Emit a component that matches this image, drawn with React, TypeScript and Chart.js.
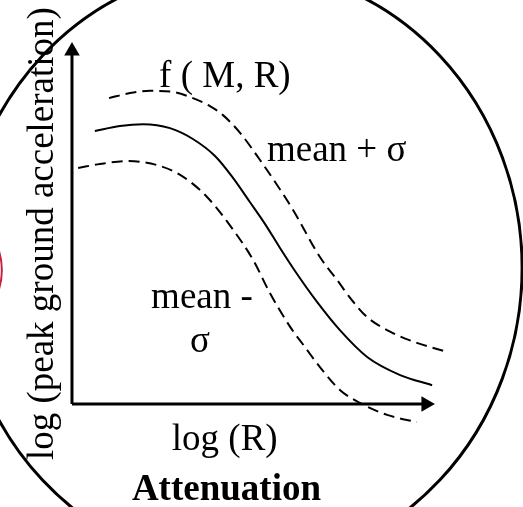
import React, { useEffect, useRef } from "react";
import { Chart, registerables } from "chart.js";
Chart.register(...registerables);

// Diagram units: origin of the axes = (0,0), arrow tips = 10
const X_MIN = -1.983;
const X_MAX = 12.424;
const Y_MIN = -2.845;
const Y_MAX = 11.16;

// mean curve f(M,R)
const meanX = [0.63, 1.32, 1.96, 2.7, 3.33, 3.94, 4.44, 4.9, 5.32, 5.73, 6.2, 6.75, 7.38, 8.13, 9.04, 9.92];
const meanY = [7.54, 7.68, 7.73, 7.62, 7.32, 6.85, 6.24, 5.58, 4.97, 4.31, 3.59, 2.82, 2.04, 1.3, 0.8, 0.52];

// mean + sigma
const upperX = [1.02, 1.6, 2.15, 2.78, 3.25, 3.8, 4.16, 4.63, 5.18, 5.65, 6.09, 6.83, 7.3, 7.71, 8.13, 8.84, 9.5, 10.33];
const upperY = [8.45, 8.59, 8.65, 8.62, 8.48, 8.23, 7.98, 7.49, 6.74, 6.05, 5.36, 4.06, 3.43, 2.87, 2.4, 1.96, 1.69, 1.44];

// mean - sigma
const lowerX = [0.17, 0.77, 1.52, 2.34, 2.98, 3.72, 4.44, 4.99, 5.45, 6.01, 6.42, 6.83, 7.38, 7.93, 8.68, 9.5];
const lowerY = [6.52, 6.63, 6.71, 6.6, 6.33, 5.72, 4.81, 3.98, 3.07, 2.13, 1.57, 1.02, 0.39, 0.03, -0.3, -0.5];

// axes (ends carry the arrow heads)
const xAxisX = [0, 9.75];
const xAxisY = [0, 0];
const yAxisX = [0, 0];
const yAxisY = [0, 9.75];

// text labels
const labelTexts = ["f ( M, R)", "mean + σ", "mean -", "σ", "log (R)"];
const labelX = [2.4, 5.37, 2.18, 3.25, 2.75];
const labelY = [8.76, 6.71, 2.65, 1.44, -1.27];
const titleText = "Attenuation";
const titleX = 1.65;
const titleY = -2.65;
const yLabelText = "log (peak ground acceleration)";
const yLabelX = -0.52;
const yLabelY = -1.55;

// outline ellipse (centre, radii) and red partial circle
const ellipse = { cx: 4.66, cy: 3.76, rx: 7.74, ry: 8.29 };
const redCircle = { cx: -3.64, cy: 3.7, rx: 1.708, ry: 1.713 };

const zip = (xs: number[], ys: number[]) => xs.map((x, i) => ({ x, y: ys[i] }));

const FONT = '"Liberation Serif", "Times New Roman", serif';

const decorPlugin = {
  id: "decor",
  beforeDatasetsDraw(chart: any) {
    const { ctx, scales } = chart;
    const xs = scales.x, ys = scales.y;
    const drawEll = (e: any, color: string, w: number) => {
      const cx = xs.getPixelForValue(e.cx);
      const cy = ys.getPixelForValue(e.cy);
      const rx = Math.abs(xs.getPixelForValue(e.cx + e.rx) - cx);
      const ry = Math.abs(ys.getPixelForValue(e.cy + e.ry) - cy);
      ctx.save();
      ctx.beginPath();
      ctx.ellipse(cx, cy, rx, ry, 0, 0, Math.PI * 2);
      ctx.strokeStyle = color;
      ctx.lineWidth = w;
      ctx.stroke();
      ctx.restore();
    };
    drawEll(ellipse, "#000", 3);
    drawEll(redCircle, "#c8203c", 2);
  },
  afterDatasetsDraw(chart: any) {
    const { ctx, scales } = chart;
    const xs = scales.x, ys = scales.y;
    ctx.save();
    ctx.fillStyle = "#000";
    ctx.textAlign = "left";
    ctx.textBaseline = "alphabetic";
    ctx.font = `37px ${FONT}`;
    labelTexts.forEach((t, i) => {
      ctx.fillText(t, xs.getPixelForValue(labelX[i]), ys.getPixelForValue(labelY[i]));
    });
    ctx.font = `bold 37px ${FONT}`;
    ctx.fillText(titleText, xs.getPixelForValue(titleX), ys.getPixelForValue(titleY));
    ctx.font = `37px ${FONT}`;
    ctx.translate(xs.getPixelForValue(yLabelX), ys.getPixelForValue(yLabelY));
    ctx.rotate(-Math.PI / 2);
    ctx.fillText(yLabelText, 0, 0);
    ctx.restore();
  },
};

export default function App() {
  const ref = useRef<HTMLCanvasElement>(null);
  useEffect(() => {
    if (!ref.current) return;
    const curve = {
      borderColor: "#000",
      borderWidth: 2,
      pointRadius: 0,
      cubicInterpolationMode: "monotone",
      fill: false,
    };
    const arrowAxis = {
      borderColor: "#000",
      borderWidth: 3,
      tension: 0,
      pointRadius: [0, 9],
      pointStyle: "triangle",
      pointBackgroundColor: "#000",
      pointBorderColor: "#000",
      pointBorderWidth: 0,
    };
    const chart = new Chart(ref.current, {
      type: "line",
      data: {
        datasets: [
          { ...curve, label: "mean", data: zip(meanX, meanY) },
          { ...curve, label: "mean + σ", data: zip(upperX, upperY), borderDash: [11, 6] },
          { ...curve, label: "mean - σ", data: zip(lowerX, lowerY), borderDash: [11, 6] },
          { ...arrowAxis, label: "x axis", data: zip(xAxisX, xAxisY), pointRotation: 90 },
          { ...arrowAxis, label: "y axis", data: zip(yAxisX, yAxisY), pointRotation: 0 },
        ] as any,
      },
      options: {
        animation: false,
        responsive: false,
        layout: { padding: 0, autoPadding: false },
        plugins: { legend: { display: false }, tooltip: { enabled: false } },
        scales: {
          x: { type: "linear", min: X_MIN, max: X_MAX, display: false },
          y: { type: "linear", min: Y_MIN, max: Y_MAX, display: false },
        },
      } as any,
      plugins: [decorPlugin],
    });
    return () => chart.destroy();
  }, []);
  return (
    <div style={{ position: "fixed", left: 0, top: 0, width: 523, height: 507, background: "#fff" }}>
      <canvas ref={ref} width={523} height={507} style={{ display: "block" }} />
    </div>
  );
}
